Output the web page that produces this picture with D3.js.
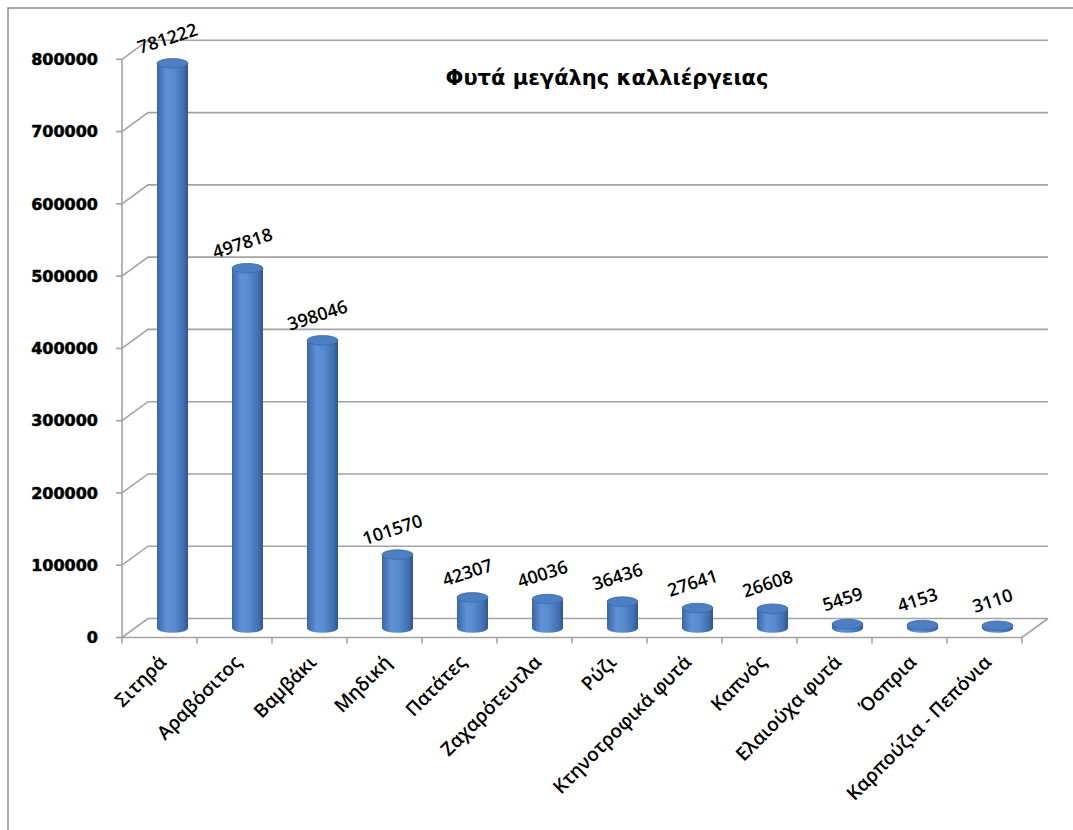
<!DOCTYPE html>
<html>
<head>
<meta charset="utf-8">
<script src="https://cdn.jsdelivr.net/npm/d3@7"></script>
<style>
  body { margin: 0; background: #fff; }
</style>
</head>
<body>
<div id="chart"></div>
<script>
const width = 1073;
const height = 830;

// data
const categories = ["Σιτηρά", "Αραβόσιτος", "Βαμβάκι", "Μηδική", "Πατάτες", "Ζαχαρότευτλα", "Ρύζι",
  "Κτηνοτροφικά φυτά", "Καπνός", "Ελαιούχα φυτά", "Όσπρια", "Καρπούζια - Πεπόνια"];
const values = [781222, 497818, 398046, 101570, 42307, 40036, 36436, 27641, 26608, 5459, 4153, 3110];
const yTicks = [0, 100000, 200000, 300000, 400000, 500000, 600000, 700000, 800000];
const title = "Φυτά μεγάλης καλλιέργειας";

// 3d depth offset of the back wall
const depthX = 26;
const depthY = -19;
const gridColor = "#a3a3a3";

const svg = d3.select("#chart").append("svg")
  .attr("width", width)
  .attr("height", height);

svg.append("rect").attr("width", width).attr("height", height).attr("fill", "#fff");
// outer frame (runs off the right and bottom of the picture)
svg.append("rect")
  .attr("x", 8).attr("y", 8)
  .attr("width", width + 20).attr("height", height + 20)
  .attr("fill", "none").attr("stroke", "#8c8c8c").attr("stroke-width", 1.5);

const x = d3.scaleBand().domain(categories).range([122, 1022]);
const y = d3.scaleLinear().domain([0, 800000]).range([637.5, 59.3]);

// walls: gridlines on left side wall and back wall
const grid = svg.append("g").attr("stroke", gridColor).attr("stroke-width", 1.6).attr("fill", "none");
grid.selectAll("path.g")
  .data(yTicks)
  .enter()
  .append("path")
  .attr("d", (d) => `M${x.range()[0]},${y(d)}L${x.range()[0] + depthX},${y(d) + depthY}L${x.range()[1] + depthX},${y(d) + depthY}`);

// floor: front edge and right edge
grid.append("path")
  .attr("d", `M${x.range()[0]},${y(0)}L${x.range()[1]},${y(0)}L${x.range()[1] + depthX},${y(0) + depthY}`);
// left axis line
grid.append("line")
  .attr("x1", x.range()[0]).attr("x2", x.range()[0])
  .attr("y1", y(800000)).attr("y2", y(0));

// y ticks and labels
grid.selectAll("line.yt")
  .data(yTicks)
  .enter()
  .append("line")
  .attr("x1", x.range()[0] - 6).attr("x2", x.range()[0])
  .attr("y1", (d) => y(d)).attr("y2", (d) => y(d));

svg.append("g").selectAll("text")
  .data(yTicks)
  .enter()
  .append("text")
  .attr("x", 98)
  .attr("y", (d) => y(d))
  .attr("dy", "0.36em")
  .attr("text-anchor", "end")
  .attr("font-family", "DejaVu Sans")
  .attr("font-weight", "bold")
  .attr("font-size", 16)
  .attr("fill", "#000")
  .attr("stroke", "#000")
  .attr("stroke-width", 0.5)
  .text((d) => d);

// x ticks at band edges
const edges = categories.map((c) => x(c)).concat([x.range()[1]]);
grid.selectAll("line.xt")
  .data(edges)
  .enter()
  .append("line")
  .attr("x1", (d) => d).attr("x2", (d) => d)
  .attr("y1", y(0)).attr("y2", y(0) + 6);

// cylinders
const defs = svg.append("defs");
const grad = defs.append("linearGradient").attr("id", "cyl").attr("x1", "0%").attr("x2", "100%");
[["0%", "#3b66a4"], ["30%", "#5e91d6"], ["55%", "#578acf"], ["85%", "#4170b0"], ["100%", "#2f568f"]]
  .forEach(([o, c]) => grad.append("stop").attr("offset", o).attr("stop-color", c));

const barW = 31;
const ry = 4.8;
const midX = depthX / 2;
const midY = depthY / 2;

const bars = svg.append("g").selectAll("g")
  .data(categories.map((c, i) => ({ cat: c, value: values[i] })))
  .enter()
  .append("g")
  .attr("transform", (d) => `translate(${x(d.cat) + x.bandwidth() / 2 + midX},${midY})`);

bars.append("path")
  .attr("d", (d) => {
    const top = y(d.value);
    const bot = y(0);
    const r = barW / 2;
    return `M${-r},${top}L${-r},${bot}A${r},${ry} 0 0 0 ${r},${bot}L${r},${top}Z`;
  })
  .attr("fill", "url(#cyl)");

bars.append("ellipse")
  .attr("cx", 0)
  .attr("cy", (d) => y(d.value))
  .attr("rx", barW / 2)
  .attr("ry", ry)
  .attr("fill", "#4d7fc3")
  .attr("stroke", "#3b67a7")
  .attr("stroke-width", 0.8);

// value labels
bars.append("text")
  .attr("transform", (d) => `translate(-5,${y(d.value) - 25}) rotate(-18)`)
  .attr("text-anchor", "middle")
  .attr("dy", "0.35em")
  .attr("font-family", "Open Sans")
  .attr("font-weight", 600)
  .attr("font-size", 18)
  .attr("fill", "#000")
  .text((d) => d.value);

// category labels
svg.append("g").selectAll("text")
  .data(categories)
  .enter()
  .append("text")
  .attr("transform", (d) => `translate(${x(d) + x.bandwidth() / 2 + 8},${y(0) + 26}) rotate(-45)`)
  .attr("text-anchor", "end")
  .attr("font-family", "Open Sans")
  .attr("font-weight", 600)
  .attr("font-size", 19)
  .attr("fill", "#000")
  .text((d) => d);

// title
svg.append("text")
  .attr("x", 607)
  .attr("y", 78)
  .attr("dy", "0.35em")
  .attr("text-anchor", "middle")
  .attr("font-family", "DejaVu Sans")
  .attr("font-weight", "bold")
  .attr("font-size", 21)
  .attr("fill", "#000")
  .text(title);
</script>
</body>
</html>
